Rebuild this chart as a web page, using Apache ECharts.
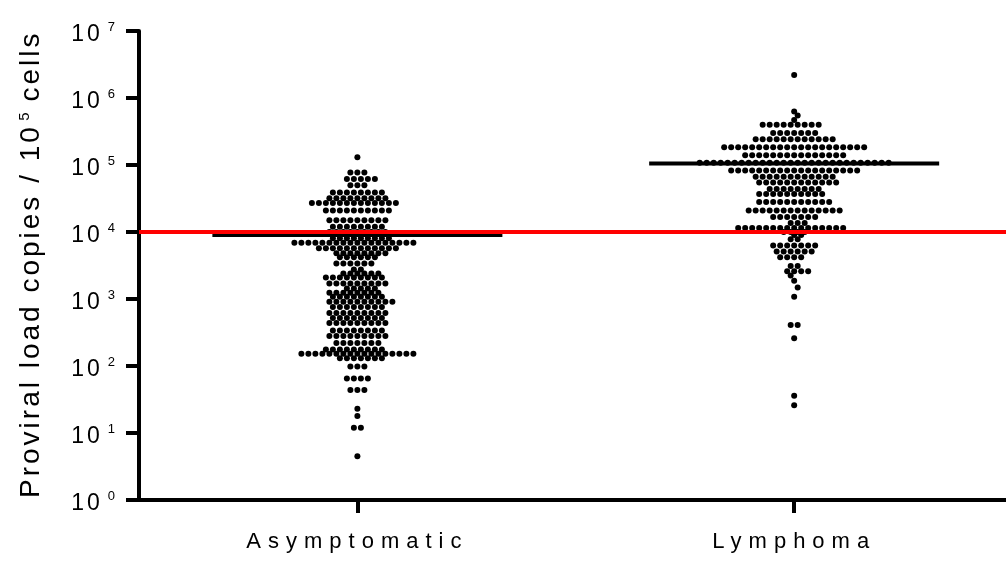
<!DOCTYPE html>
<html>
<head>
<meta charset="utf-8">
<script src="https://cdn.jsdelivr.net/npm/echarts@6/dist/echarts.min.js"></script>
<style>
  html, body { margin: 0; padding: 0; background: #fff; }
  #main { width: 1006px; height: 561px; }
</style>
</head>
<body>
<div id="main"></div>
<script>
// groups on the x axis
const categories = ['Asymptomatic', 'Lymphoma']

// proviral load per dot row (copies / 10^5 cells) and how many dots sit in that row
const asymValues = [130000, 77000, 62000, 50000, 39000, 32000, 27000, 21000, 15000, 12000,
  10000, 8100, 6900, 5700, 4800, 4200, 3400, 2750, 2400, 2100,
  1700, 1430, 1240, 1080, 910, 760, 620, 520, 440, 340,
  280, 220, 177, 152, 130, 98, 65, 44, 23, 18,
  12, 4.5]
const asymCounts = [1, 3, 5, 3, 8, 9, 13, 10, 9, 8,
  9, 9, 18, 12, 8, 6, 6, 2, 6, 9,
  9, 5, 8, 8, 10, 8, 9, 8, 9, 8,
  9, 7, 9, 17, 7, 3, 4, 3, 1, 1,
  2, 1]

const lymphValues = [2200000, 630000, 550000, 470000, 400000, 300000, 243000, 184000, 140000, 108000,
  83000, 67000, 55000, 44000, 37000, 28000, 21000, 16800, 13600, 11500,
  10000, 9000, 7800, 6300, 5100, 4200, 3100, 2600, 2240, 1880,
  1480, 1080, 410, 260, 36, 26]
const lymphCounts = [1, 1, 1, 1, 9, 7, 12, 21, 15, 28,
  19, 12, 12, 8, 10, 11, 14, 7, 3, 16,
  4, 2, 2, 7, 6, 4, 2, 4, 1, 1,
  1, 1, 2, 1, 1, 1]

// median of each group and the red cut-off
const medians = [9000, 105000]
const threshold = 10000

// y axis ticks
const majorTicks = [1, 10, 100, 1000, 10000, 100000, 1000000, 10000000]
const minorTicks = []
for (let n = 0; n < 7; n++) {
  for (let k = 2; k <= 9; k++) minorTicks.push(k * Math.pow(10, n))
}

const font = "'Liberation Sans', Arial, sans-serif"

// the original (GraphPad) text is drawn with wide letter spacing,
// echarts has no option for it so set it on the canvas by font size
const spacingBySize = { 22: '7px', 23: '3px', 28: '3px' }
const origFillText = CanvasRenderingContext2D.prototype.fillText
CanvasRenderingContext2D.prototype.fillText = function () {
  let m = /(\d+)px/.exec(this.font)
  this.letterSpacing = (m && spacingBySize[m[1]]) || '0px'
  return origFillText.apply(this, arguments)
}

let myChart = echarts.init(document.getElementById('main'))

myChart.setOption({
  backgroundColor: '#fff',
  animation: false,
  grid: {
    left: 139,
    right: 0,
    top: 31,
    bottom: 61
  },
  xAxis: {
    type: 'value',
    min: -0.5,
    max: 1.485,
    splitLine: { show: false },
    axisLine: {
      onZero: false,
      lineStyle: { color: '#000', width: 4 }
    },
    axisTick: {
      customValues: [0, 1],
      length: 13,
      lineStyle: { color: '#000', width: 4 }
    },
    axisLabel: {
      customValues: [0, 1],
      margin: 31,
      color: '#000',
      fontFamily: font,
      fontSize: 22,
      formatter: function (v) {
        return categories[Math.round(v)]
      }
    }
  },
  yAxis: [
    {
      type: 'log',
      logBase: 10,
      min: 1,
      max: 10000000,
      splitLine: { show: false },
      axisLine: {
        onZero: false,
        lineStyle: { color: '#000', width: 4 }
      },
      axisTick: {
        customValues: majorTicks,
        length: 13,
        lineStyle: { color: '#000', width: 4 }
      },
      axisLabel: {
        customValues: majorTicks,
        margin: 24,
        color: '#000',
        fontFamily: font,
        formatter: function (v) {
          return '{b|10}{s|' + Math.round(Math.log10(v)) + '}'
        },
        rich: {
          b: { fontSize: 23, fontFamily: font, color: '#000', padding: [8, 5, 0, 0] },
          s: { fontSize: 13, fontFamily: font, color: '#000', verticalAlign: 'top', padding: [5, 0, 0, 0] }
        }
      },
      // paddings make room for the letter spacing of the centred tokens
      name: '{a|Proviral load copies / 10}{s|5}{c| cells}',
      nameLocation: 'middle',
      nameGap: 94,
      nameTextStyle: {
        rich: {
          a: { fontSize: 28, fontFamily: font, color: '#000', padding: [0, 0, 0, 37] },
          s: { fontSize: 15, fontFamily: font, color: '#000', verticalAlign: 'top', padding: [0, 0, 0, 41] },
          c: { fontSize: 28, fontFamily: font, color: '#000', padding: [0, 6, 0, 9] }
        }
      }
    },
    {
      type: 'log',
      logBase: 10,
      min: 1,
      max: 10000000,
      splitLine: { show: false },
      axisLine: { show: false, onZero: false },
      axisLabel: { show: false },
      axisTick: {
        customValues: minorTicks,
        length: 6,
        lineStyle: { color: '#000', width: 2.5 }
      }
    }
  ],
  series: [{ type: 'scatter', data: [] }]
})

// dots are laid out in rows, spread sideways like a scatter dot plot
const step = 7 / (myChart.convertToPixel({ xAxisIndex: 0 }, 1) - myChart.convertToPixel({ xAxisIndex: 0 }, 0))

function rowsToPoints (values, counts, center) {
  let pts = []
  let prevY = null
  let prevPhase = null
  let sign = 1
  values.forEach(function (v, r) {
    let n = counts[r]
    let py = myChart.convertToPixel({ yAxisIndex: 0 }, v)
    let phase = n % 2 ? 0 : 0.5
    let shift = 0
    if (prevY !== null && Math.abs(py - prevY) < 7 && phase === prevPhase) {
      shift = 0.5 * sign
      sign = -sign
      phase = 0.5 - phase
    }
    for (let i = 0; i < n; i++) {
      pts.push([center + (i - (n - 1) / 2 + shift) * step, v])
    }
    prevY = py
    prevPhase = phase
  })
  return pts
}

const halfWidth = 145 * step / 7

myChart.setOption({
  series: [
    {
      name: categories[0],
      type: 'scatter',
      symbolSize: 6,
      itemStyle: { color: '#000', opacity: 1 },
      data: rowsToPoints(asymValues, asymCounts, 0),
      z: 2
    },
    {
      name: categories[1],
      type: 'scatter',
      symbolSize: 6,
      itemStyle: { color: '#000', opacity: 1 },
      data: rowsToPoints(lymphValues, lymphCounts, 1),
      z: 2
    },
    {
      name: 'median',
      type: 'line',
      showSymbol: false,
      symbol: 'none',
      lineStyle: { color: '#000', width: 4 },
      data: [[0 - halfWidth, medians[0]], [0 + halfWidth, medians[0]], null, [1 - halfWidth, medians[1]], [1 + halfWidth, medians[1]]],
      connectNulls: false,
      z: 3,
      markLine: {
        symbol: 'none',
        silent: true,
        label: { show: false },
        lineStyle: { color: '#ff0000', width: 4, type: 'solid' },
        data: [{ yAxis: threshold }]
      }
    }
  ]
})
</script>
</body>
</html>
